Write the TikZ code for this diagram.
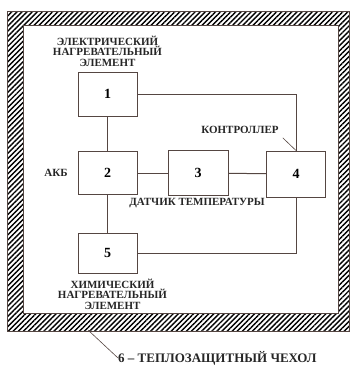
\documentclass[tikz,border=0pt]{standalone}
\usepackage{fontspec}
\setmainfont{Liberation Serif}
\usetikzlibrary{positioning,patterns.meta}

\definecolor{linec}{RGB}{85,70,66}

\begin{document}
\begin{tikzpicture}[x=1pt,y=-1pt,
				block/.style={rectangle, draw=linec, line width=1pt, minimum width=59pt, minimum height=44pt, font=\fontsize{14}{15}\selectfont\bfseries},
				label/.style={inner sep=0pt, align=center, text=black!85, font=\fontsize{11}{10.5}\selectfont\bfseries},
				wire/.style={draw=linec, line width=1pt}
			]
			\useasboundingbox (0,0) rectangle (350,375);
			% heat-protective cover
			\fill[pattern={Lines[angle=45,distance=3.6pt,line width=1.4pt]}, even odd rule]
				(7,11) rectangle (349,331) (23,25) rectangle (338,313);
			\draw[linec, thin] (7,11) rectangle (349,331) (23,25) rectangle (338,313);
			\node[block] (heater) at (107.5,94) {1};
			\node[block, minimum height=43pt] (battery) at (107.5,173) {2};
			\node[block, minimum width=60pt, minimum height=45pt] (sensor) at (198,173) {3};
			\node[block, minimum height=46pt] (ctrl) at (296,174) {4};
			\node[block, minimum height=40pt] (chem) at (107.5,253) {5};
			\node[label] (heaterlbl) [above=5pt of heater] {ЭЛЕКТРИЧЕСКИЙ\\НАГРЕВАТЕЛЬНЫЙ\\ЭЛЕМЕНТ};
			\node[label] (chemlbl) [below=5pt of chem, xshift=5pt] {ХИМИЧЕСКИЙ\\НАГРЕВАТЕЛЬНЫЙ\\ЭЛЕМЕНТ};
			\node[label] (batlbl) at (56,173) {АКБ};
			\node[label] (sensorlbl) at (197,203) {ДАТЧИК ТЕМПЕРАТУРЫ};
			\node[label] (ctrllbl) at (240,130) {КОНТРОЛЛЕР};
			\node[label, anchor=west, font=\fontsize{13}{13}\selectfont\bfseries] (coverlbl) at (118,358) {6 -- ТЕПЛОЗАЩИТНЫЙ ЧЕХОЛ};
			\coordinate (coverpt) at (88,330);
			\begin{scope}[wire]
			\draw (heater.east) -| (ctrl.north);
			\draw (heater) -- (battery);
			\draw (battery) -- (chem);
			\draw (battery) -- (sensor);
			\draw (sensor) -- (ctrl);
			\draw (ctrl.south) |- (chem.east);
			\end{scope}
			\draw[linec, line width=0.6pt] (ctrllbl.south east) ++(4,4) -- (ctrl.north);
			\draw[linec, line width=0.6pt] (coverpt) -- (coverlbl.west);
			\end{tikzpicture}
\end{document}
